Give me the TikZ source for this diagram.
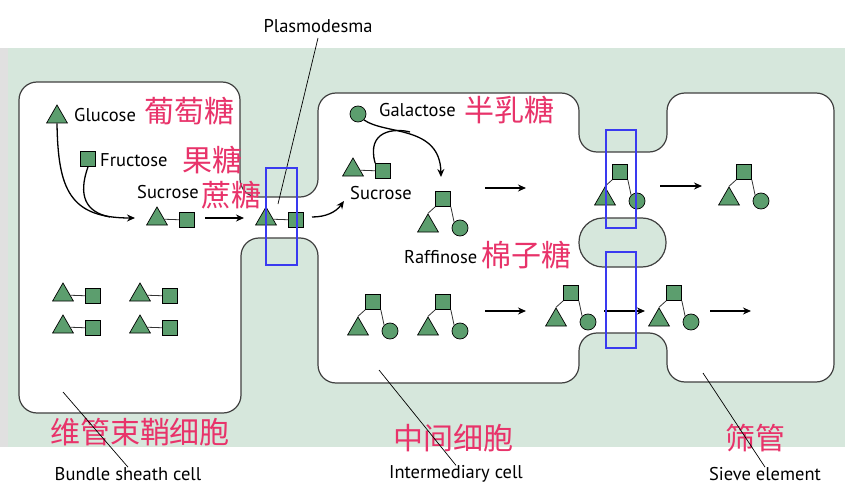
\documentclass[tikz,border=0pt]{standalone}
\usepackage{fontspec}
\setmainfont{PT Sans}
\newfontfamily\cjk{Noto Sans CJK SC}
\usetikzlibrary{shapes.geometric,arrows.meta,calc}
\definecolor{bg}{HTML}{D6E7DC}
\definecolor{mol}{HTML}{5C9E6E}
\definecolor{pink}{HTML}{E8336A}
\definecolor{box}{HTML}{3A3AF0}
\tikzset{
 tri/.style={regular polygon,regular polygon sides=3,minimum size=24pt,inner sep=0pt,fill=mol,draw=black,line width=0.7pt},
 sq/.style={rectangle,minimum size=15pt,inner sep=0pt,fill=mol,draw=black,line width=0.7pt},
 circ/.style={circle,minimum size=16pt,inner sep=0pt,fill=mol,draw=black,line width=0.7pt},
 link/.style={line width=0.8pt,black!80},
 arr/.style={line width=1.3pt,-{Stealth[length=8pt,width=7pt]}},
 lbl/.style={font=\fontsize{18.5}{18.5}\selectfont,inner sep=0pt},
 zh/.style={font=\cjk\fontsize{30}{30}\selectfont,text=pink,inner sep=0pt},
 bx/.style={draw=box,line width=1.6pt},
 cell/.style={draw=black!75,line width=1.2pt,fill=white,rounded corners=18pt},
 lead/.style={line width=0.7pt}
}
\newcommand\sucmol{}
\renewcommand\sucmol[3]{\node[tri] (#1t) at (#2,#3) {};\node[sq] (#1s) at ({#2+30},{#3+1}) {};\draw[link] (#1t) -- (#1s);}
\newcommand\raffmol[3]{\node[sq] (#1s) at (#2,#3) {};\node[tri] (#1t) at ({#2-15},{#3+27}) {};\node[circ] (#1c) at ({#2+17},{#3+29}) {};\draw[link] (#1s.south west) -- (#1t.corner 1);\draw[link] (#1s.south east) -- (#1c.north west);}
\begin{document}
\begin{tikzpicture}[x=1pt,y=-1pt]
\useasboundingbox (0,0) rectangle (855,487);
\fill[white] (0,0) rectangle (855,487);
\fill[black!12] (0,48) rectangle (8,447);
\fill[bg] (8,48) rectangle (845,447);
% cells outline
\draw[cell] (19,82) -- (240,82) -- (240,197) -- (318,197) -- (318,93) -- (579,93) -- (579,152) -- (667,152) -- (667,93) -- (834,93) -- (834,382) -- (667,382) -- (667,333) -- (579,333) -- (579,383) -- (318,383) -- (318,238) -- (241,238) -- (241,413) -- (19,413) -- cycle;
\draw[draw=black!75,line width=1.2pt,fill=bg,rounded corners=24pt] (579,218) rectangle (666,267);
% bundle sheath
\node[tri] (g) at (57,117) {};
\node[lbl,anchor=west] (gl) at (74,115) {Glucose};
\node[zh,anchor=west] (gz) at (144,111) {葡萄糖};
\node[sq] (f) at (88,159) {};
\node[lbl,anchor=west] (fl) at (100,160) {Fructose};
\node[zh,anchor=west] (fz) at (182,160) {果糖};
\node[lbl,anchor=west] (sl) at (137,192) {Sucrose};
\node[zh,anchor=west] (sz) at (201,195) {蔗糖};
\sucmol{a}{157}{219}
\sucmol{b}{266}{219}
\coordinate (m1) at (135,218);
\draw[arr] (g.south) .. controls (58,190) and (70,218) .. (m1);
\draw[line width=1.3pt] (f.south) .. controls (78,195) and (85,212) .. (110,217);
\coordinate (a1) at (205,218); \coordinate (a2) at (244,218);
\draw[arr] (a1) -- (a2);
\sucmol{p}{63}{295}
\sucmol{q}{140}{295}
\sucmol{r}{63}{327}
\sucmol{s}{140}{327}
% plasmodesma
\node[lbl] (pl) at (318,26) {Plasmodesma};
\coordinate (pt) at (318,38);
\coordinate (pp) at (278,204);
\draw[lead] (pt) -- (pp);
\draw[bx] (266,168) rectangle (297,265);
% intermediary cell
\coordinate (c1) at (312,217); \coordinate (c2) at (344,201);
\draw[arr] (c1) .. controls (326,217) and (336,212) .. (c2);
\node[circ] (gal) at (358,114) {};
\node[lbl,anchor=west] (gall) at (379,110) {Galactose};
\node[zh,anchor=west] (galz) at (464,110) {半乳糖};
\sucmol{c}{353}{170}
\node[lbl] (s2l) at (381,193) {Sucrose};
\raffmol{r1}{443}{199}
\node[lbl,anchor=west] (rl) at (404,257) {Raffinose};
\node[zh,anchor=west] (rz) at (481,255) {棉子糖};
\coordinate (k1) at (441,177);
\draw[arr] (gal.south east) .. controls (385,135) and (440,125) .. (k1);
\draw[line width=1.3pt] (cs.north west) .. controls (366,130) and (395,128) .. (410,132);
\coordinate (u1) at (485,188); \coordinate (u2) at (526,188);
\draw[arr] (u1) -- (u2);
\raffmol{r2}{620}{172}
\coordinate (u3) at (660,186); \coordinate (u4) at (702,186);
\draw[arr] (u3) -- (u4);
\raffmol{r3}{744}{172}
\draw[bx] (606,130) rectangle (636,228);
% bottom row
\raffmol{r4}{373}{302}
\raffmol{r5}{443}{302}
\coordinate (d1) at (485,311); \coordinate (d2) at (526,311);
\draw[arr] (d1) -- (d2);
\raffmol{r6}{571}{293}
\coordinate (d3) at (604,311); \coordinate (d4) at (645,311);
\draw[arr] (d3) -- (d4);
\raffmol{r7}{674}{293}
\coordinate (d5) at (710,311); \coordinate (d6) at (751,311);
\draw[arr] (d5) -- (d6);
\draw[bx] (606,252) rectangle (636,348);
% bottom labels
\node[zh] (z1) at (140,432) {维管束鞘细胞};
\node[zh] (z2) at (453,438) {中间细胞};
\node[zh] (z3) at (755,438) {筛管};
\node[lbl] (b1) at (128,474) {Bundle sheath cell};
\node[lbl] (b2) at (456,474) {Intermediary cell};
\node[lbl] (b3) at (765,474) {Sieve element};
\coordinate (e1) at (63,392); \coordinate (e2) at (379,370); \coordinate (e3) at (703,373);
\draw[lead] (e1) -- (b1.north);
\draw[lead] (e2) -- (b2.north);
\draw[lead] (e3) -- (b3.north);
\end{tikzpicture}
\end{document}
